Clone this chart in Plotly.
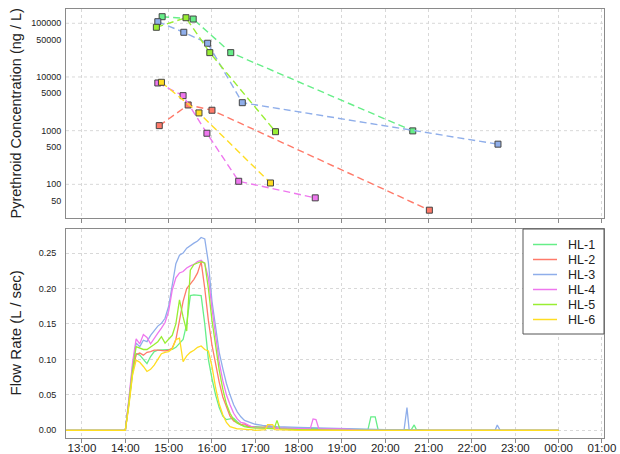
import math
import plotly.graph_objects as go
from plotly.subplots import make_subplots

# ---------------- data ----------------
series_names = ["HL-1", "HL-2", "HL-3", "HL-4", "HL-5", "HL-6"]
series_colors = ["#66EE88", "#FF7A6A", "#8FAEEA", "#EE77EE", "#99EE33", "#FFDD22"]

# Pyrethroid concentration samples (time of day, ng/L)
conc_times = {
    "HL-1": ["14:51", "15:34", "16:26", "20:38"],
    "HL-2": ["14:47", "15:27", "16:00", "21:01"],
    "HL-3": ["14:45", "15:21", "15:54", "16:42", "22:36"],
    "HL-4": ["14:45", "15:20", "15:53", "16:37", "18:23"],
    "HL-5": ["14:43", "15:24", "15:57", "17:28"],
    "HL-6": ["14:50", "15:42", "17:21"],
}
conc_values = {
    "HL-1": [132700, 120000, 28400, 990],
    "HL-2": [1240, 3010, 2400, 33],
    "HL-3": [107000, 68000, 42500, 3320, 560],
    "HL-4": [7730, 4490, 895, 114, 56],
    "HL-5": [84300, 127000, 28400, 957],
    "HL-6": [7960, 2140, 106],
}
conc_tick_values = [50, 100, 500, 1000, 5000, 10000, 50000, 100000]
conc_grid_values = [100, 1000, 10000, 100000]

# Flow rate (L/sec): start of record, 5-minute grid 14:00-17:00, then per-series tails
flow_start_time = "12:38"
flow_grid_times = [f"{14 + m // 60:02d}:{m % 60:02d}" for m in range(0, 181, 5)]
flow_grid = {
    "HL-1": [0, 0.038, 0.08, 0.108, 0.106, 0.1, 0.094, 0.104, 0.111, 0.113, 0.113, 0.113, 0.113,
             0.114, 0.117, 0.122, 0.128, 0.15, 0.19, 0.191, 0.191, 0.19, 0.15, 0.1, 0.073, 0.05,
             0.032, 0.02, 0.015, 0.016, 0.017, 0.012, 0.008, 0.006, 0.005, 0.005, 0.005],
    "HL-2": [0, 0.04, 0.085, 0.107, 0.109, 0.106, 0.11, 0.111, 0.113, 0.113, 0.112, 0.112, 0.113,
             0.116, 0.128, 0.155, 0.182, 0.2, 0.207, 0.213, 0.222, 0.238, 0.2, 0.155, 0.12, 0.093,
             0.068, 0.047, 0.032, 0.02, 0.013, 0.01, 0.008, 0.009, 0.006, 0.005, 0.004],
    "HL-3": [0, 0.042, 0.09, 0.123, 0.118, 0.127, 0.125, 0.134, 0.141, 0.147, 0.151, 0.158, 0.175,
             0.205, 0.235, 0.247, 0.25, 0.257, 0.261, 0.264, 0.267, 0.272, 0.27, 0.237, 0.182,
             0.145, 0.11, 0.087, 0.066, 0.05, 0.036, 0.026, 0.019, 0.014, 0.012, 0.01, 0.0085],
    "HL-4": [0, 0.045, 0.095, 0.129, 0.122, 0.135, 0.131, 0.122, 0.13, 0.137, 0.144, 0.152, 0.168,
             0.198, 0.215, 0.222, 0.224, 0.229, 0.232, 0.234, 0.238, 0.24, 0.235, 0.215, 0.172,
             0.135, 0.096, 0.07, 0.05, 0.036, 0.024, 0.016, 0.011, 0.01, 0.007, 0.005, 0.004],
    "HL-5": [0, 0.04, 0.085, 0.118, 0.116, 0.114, 0.114, 0.117, 0.121, 0.125, 0.132, 0.123, 0.128,
             0.134, 0.15, 0.184, 0.16, 0.14, 0.226, 0.234, 0.236, 0.238, 0.236, 0.2, 0.155, 0.118,
             0.085, 0.058, 0.037, 0.024, 0.015, 0.01, 0.007, 0.005, 0.004, 0.003, 0.003],
    "HL-6": [0, 0.035, 0.078, 0.099, 0.096, 0.09, 0.083, 0.086, 0.092, 0.1, 0.108, 0.11, 0.111,
             0.115, 0.128, 0.13, 0.097, 0.105, 0.11, 0.113, 0.117, 0.119, 0.114, 0.112, 0.09, 0.06,
             0.037, 0.022, 0.011, 0.005, 0.003, 0.002, 0.002, 0.001, 0.001, 0.001, 0],
}
flow_tail_times = {
    "HL-1": ["17:10", "17:30", "18:00", "19:00", "19:36", "19:40", "19:46", "19:50", "20:36", "20:40", "20:43", "21:00", "00:00"],
    "HL-2": ["17:10", "17:20", "17:30", "18:00", "18:30", "19:00", "00:00"],
    "HL-3": ["17:10", "17:30", "18:00", "18:30", "19:00", "19:30", "20:00", "20:26", "20:30", "20:33", "21:00", "22:32", "22:35", "22:39", "00:00"],
    "HL-4": ["17:10", "17:30", "18:00", "18:16", "18:20", "18:24", "18:28", "19:00", "19:30", "00:00"],
    "HL-5": ["17:10", "17:26", "17:30", "17:34", "18:00", "19:00", "00:00"],
    "HL-6": ["17:14", "17:17", "17:24", "17:27", "18:00", "00:00"],
}
flow_tail_values = {
    "HL-1": [0.004, 0.003, 0.003, 0.002, 0.001, 0.019, 0.019, 0.001, 0.001, 0.0075, 0.001, 0, 0],
    "HL-2": [0.004, 0.006, 0.003, 0.002, 0.002, 0, 0],
    "HL-3": [0.007, 0.005, 0.004, 0.003, 0.003, 0.002, 0.001, 0.001, 0.032, 0.001, 0, 0, 0.0075, 0, 0],
    "HL-4": [0.003, 0.003, 0.003, 0.002, 0.016, 0.015, 0.002, 0.002, 0, 0],
    "HL-5": [0.003, 0.002, 0.014, 0.002, 0.001, 0, 0],
    "HL-6": [0.001, 0.008, 0.008, 0.001, 0, 0],
}
flow_ticks = [0, 0.05, 0.10, 0.15, 0.20, 0.25]


def tod(s):
    parts = list(map(int, s.split(":")))
    h, m = parts[0], parts[1]
    sec = parts[2] if len(parts) == 3 else 0
    day = "2000-01-02" if h < 12 else "2000-01-01"
    return f"{day} {h:02d}:{m:02d}:{sec:02d}"


# ---------------- figure ----------------
W, H = 620, 454
ml, mr, mt, mb = 66, 16, 9, 16
plot_w = W - ml - mr
plot_h = H - mt - mb
gap = 11
fig = make_subplots(rows=2, cols=1, shared_xaxes=True, vertical_spacing=gap / plot_h)

for name, color in zip(series_names, series_colors):
    fig.add_trace(go.Scatter(
        x=[tod(t) for t in conc_times[name]], y=conc_values[name],
        mode="lines+markers", name=name, showlegend=False,
        line=dict(color=color, width=1.4, dash="7px,4px"),
        marker=dict(symbol="square", size=6, color=color, line=dict(color="#444444", width=1)),
    ), row=1, col=1)

for name, color in zip(series_names, series_colors):
    xs = [flow_start_time] + flow_grid_times + flow_tail_times[name]
    ys = [0] + flow_grid[name] + flow_tail_values[name]
    fig.add_trace(go.Scatter(
        x=[tod(t) for t in xs], y=ys, mode="lines", name=name, showlegend=False,
        line=dict(color=color, width=1.3),
    ), row=2, col=1)

font_family = "Liberation Sans, Arial, sans-serif"
grid_color = "#D8D8D8"
box_color = "#8A8A8A"
text_color = "#222222"
xrange = [tod("12:37:52"), tod("01:02:49")]

common_x = dict(
    type="date", range=xrange, tick0=tod("13:00"), dtick=3600000,
    showgrid=True, gridcolor=grid_color, griddash="dot", gridwidth=1,
    showline=True, mirror=True, linecolor=box_color, linewidth=1,
    ticks="outside", ticklen=4, tickcolor=box_color, zeroline=False,
)
fig.update_xaxes(**common_x, showticklabels=False, row=1, col=1)
fig.update_xaxes(**common_x, showticklabels=True, tickformat="%H:%M",
                 ticklabelstandoff=-5,
                 tickfont=dict(size=11.5, color=text_color), row=2, col=1)

yr_top = [math.log10(23.6), math.log10(184600)]
fig.update_yaxes(type="log", range=yr_top, tickmode="array",
                 tickvals=conc_tick_values, ticktext=[str(v) for v in conc_tick_values],
                 showgrid=False,
                 showline=True, mirror=True, linecolor=box_color, linewidth=1,
                 ticks="", ticklabelstandoff=2,
                 tickfont=dict(size=9, color=text_color), zeroline=False,
                 row=1, col=1)
fig.update_yaxes(range=[-0.0109, 0.284], tickmode="array", tickvals=flow_ticks,
                 ticktext=[f"{v:.2f}" for v in flow_ticks],
                 showgrid=True, gridcolor=grid_color, griddash="dot",
                 showline=True, mirror=True, linecolor=box_color, linewidth=1,
                 ticks="", ticklabelstandoff=7,
                 tickfont=dict(size=9, color=text_color), zeroline=False,
                 row=2, col=1)

# decade grid lines of the log panel (dotted, behind data)
for gv in conc_grid_values:
    fig.add_shape(type="line", xref="x domain", yref="y", x0=0, x1=1, y0=gv, y1=gv,
                  line=dict(color=grid_color, width=1, dash="dot"), layer="below")

top_dom = fig.layout.yaxis.domain
bot_dom = fig.layout.yaxis2.domain
title_x = (15 - ml) / plot_w
fig.add_annotation(text="Pyrethroid Concentration (ng / L)", xref="paper", yref="paper",
                   x=title_x, y=(top_dom[0] + top_dom[1]) / 2, textangle=-90,
                   showarrow=False, font=dict(size=14.5, color=text_color),
                   xanchor="center", yanchor="middle")
fig.add_annotation(text="Flow Rate (L / sec)", xref="paper", yref="paper",
                   x=title_x, y=(bot_dom[0] + bot_dom[1]) / 2, textangle=-90,
                   showarrow=False, font=dict(size=15, color=text_color),
                   xanchor="center", yanchor="middle")


# ---------------- legend (drawn to match compact R-style legend) ----------------
def px_x(px):
    return (px - ml) / plot_w


def px_y(py):
    return (H - mb - py) / plot_h


leg_left, leg_right, leg_top, leg_bottom = 523, 604, 229, 334
fig.add_shape(type="rect", xref="paper", yref="paper",
              x0=px_x(leg_left), x1=px_x(leg_right), y0=px_y(leg_bottom), y1=px_y(leg_top),
              line=dict(color="#555555", width=1), fillcolor="white", layer="above")
row0, row_step = 244.5, 15
for i, (name, color) in enumerate(zip(series_names, series_colors)):
    ry = row0 + i * row_step
    fig.add_shape(type="line", xref="paper", yref="paper",
                  x0=px_x(533), x1=px_x(557), y0=px_y(ry), y1=px_y(ry),
                  line=dict(color=color, width=1.5), layer="above")
    fig.add_annotation(text=name, xref="paper", yref="paper", x=px_x(566), y=px_y(ry),
                       xanchor="left", yanchor="middle", showarrow=False,
                       font=dict(size=12.5, color=text_color))

fig.update_layout(
    width=W, height=H, margin=dict(l=ml, r=mr, t=mt, b=mb, autoexpand=False),
    paper_bgcolor="white", plot_bgcolor="white",
    font=dict(family=font_family, color=text_color),
    showlegend=False,
)

fig.write_html("out.html")
